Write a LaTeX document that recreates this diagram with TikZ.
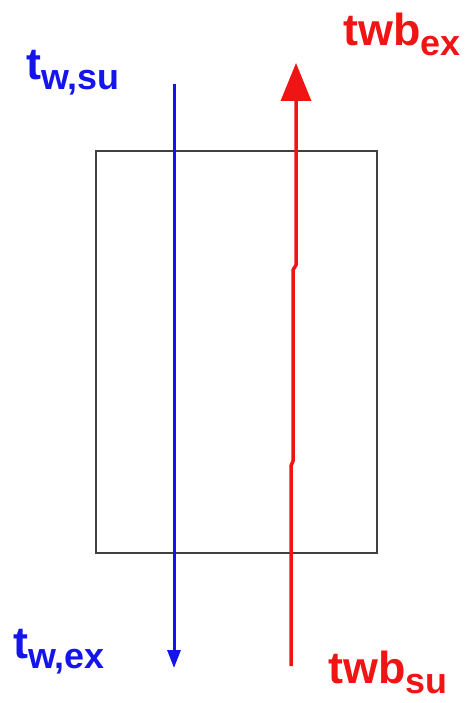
\documentclass[tikz,border=0pt]{standalone}
\usepackage{fontspec}
\setmainfont{Liberation Sans}
\usetikzlibrary{arrows.meta}
\definecolor{bblue}{RGB}{20,20,235}
\definecolor{rred}{RGB}{240,20,20}
\tikzset{
  lbl/.style={anchor=base west, inner sep=0pt, font=\bfseries\fontsize{45}{45}\selectfont},
  boxst/.style={draw=black!75, line width=1.4bp},
}
\newcommand{\mysub}[1]{{\fontsize{36}{36}\selectfont\raisebox{-10bp}{#1}}}
\begin{document}
\begin{tikzpicture}[x=1bp,y=-1bp]
\useasboundingbox (0,0) rectangle (472,703);
\draw[boxst] (96,151) rectangle (377,553);
% blue
\coordinate (bs) at (174,84);
\coordinate (be) at (174,668);
\draw[bblue, line width=3bp, -{Triangle[length=18bp,width=13bp]}] (bs) -- (be);
% red
\coordinate (rs) at (291,666);
\coordinate (re) at (296,63);
\draw[rred, line width=3.5bp, -{Triangle[length=38bp,width=30bp]}] (rs) -- (291,466) -- (293,461) -- (293,270) -- (296,265) -- (re);
% labels
\node[lbl, text=bblue] (twsu) at (26,80) {t\mysub{w,su}};
\node[lbl, text=rred] (twbex) at (343,46) {twb\mysub{ex}};
\node[lbl, text=bblue] (twex) at (13,658) {t\mysub{w,ex}};
\node[lbl, text=rred] (twbsu) at (328,683) {twb\mysub{su}};
\end{tikzpicture}
\end{document}
